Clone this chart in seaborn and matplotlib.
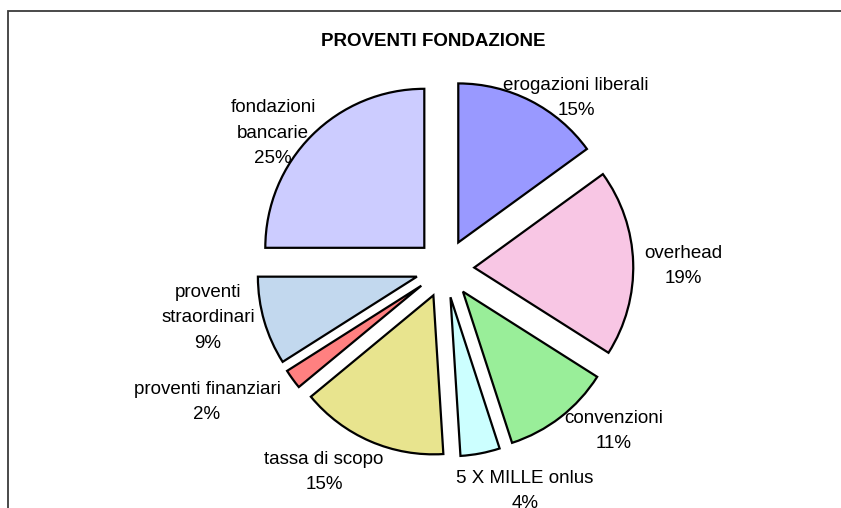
import numpy as np
import matplotlib
matplotlib.use("Agg")
import matplotlib.pyplot as plt
import seaborn as sns

# data, clockwise from 12 o'clock
labels = ['erogazioni liberali', 'overhead', 'convenzioni', '5 X MILLE onlus',
          'tassa di scopo', 'proventi finanziari', 'proventi\nstraordinari',
          'fondazioni\nbancarie']
shares = [15, 19, 11, 4, 15, 2, 9, 25]
colors = ['#9999FF', '#F8C6E4', '#99EE99', '#CCFFFF',
          '#E8E48E', '#FF8080', '#C2D8EE', '#CCCCFF']

# label centres in pixels (x from left, y from top)
label_px = [(576, 98), (683, 266), (614, 431), (525, 491),
            (324, 472), (207, 402), (208, 318), (273, 133)]

sns.set_theme(style='white')
plt.rcParams['font.family'] = ['Liberation Sans', 'DejaVu Sans']

W, H = 841, 508
cx, cy, R = 445, 268.5, 159  # pie centre / radius in pixels

fig = plt.figure(figsize=(W / 100, H / 100), dpi=100)
ax = fig.add_axes([0, 0, 1, 1])

wedges, _ = ax.pie(shares, colors=sns.color_palette(colors), startangle=90,
                   counterclock=False, radius=1, explode=[0.184] * len(shares),
                   wedgeprops=dict(edgecolor='black', linewidth=1.6))

ax.set_xlim(-cx / R, (W - cx) / R)
ax.set_ylim(-(H - cy) / R, cy / R)
ax.set_aspect('equal')
ax.axis('off')

for lab, s, (px, py) in zip(labels, shares, label_px):
    ax.text((px - cx) / R, (cy - py) / R, f'{lab}\n{s}%', ha='center',
            va='center', fontsize=13.5, linespacing=1.65, color='black')

fig.text(433 / W, 1 - 42 / H, 'PROVENTI FONDAZIONE', ha='center', va='center',
         fontsize=13.5, fontweight='bold', color='black')

# chart area frame (only top and left edges visible in the crop)
fig.add_artist(plt.Rectangle((7.5 / W, -0.1), 1.2, 1.1 - 11.5 / H,
                             transform=fig.transFigure, fill=False,
                             edgecolor='#3a3a3a', linewidth=1.3))

fig.savefig('out.png', dpi=100)
